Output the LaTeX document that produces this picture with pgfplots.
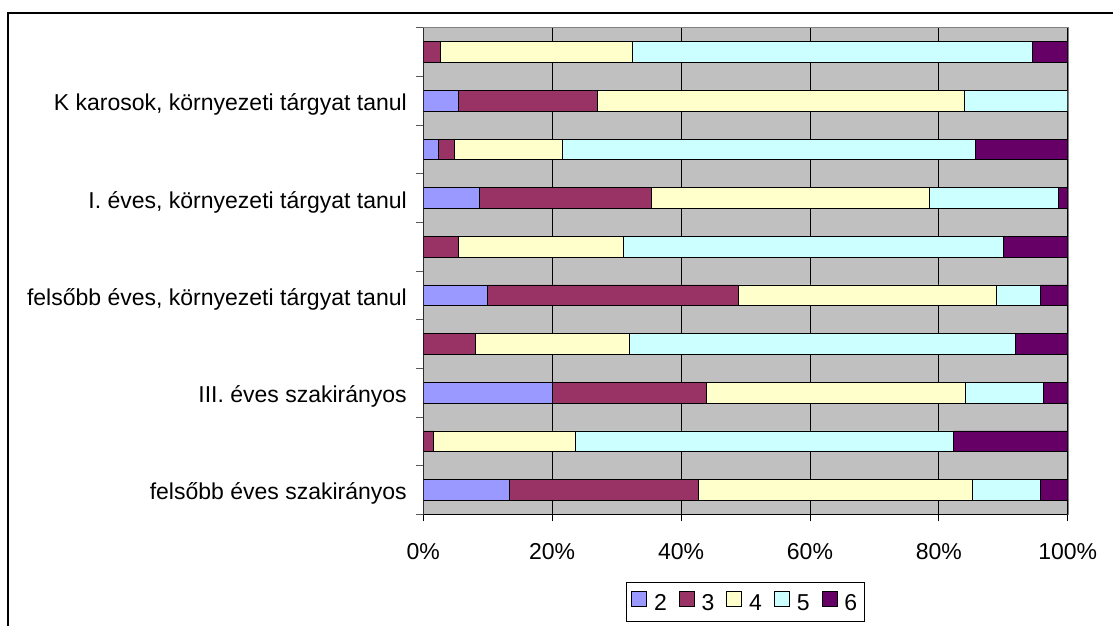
\documentclass[border=0pt]{standalone}
\usepackage{fontspec}
\setmainfont{Liberation Sans}
\usepackage{pgfplots}
\pgfplotsset{compat=1.18}

\definecolor{c2}{HTML}{9999FF}
\definecolor{c3}{HTML}{993366}
\definecolor{c4}{HTML}{FFFFCC}
\definecolor{c5}{HTML}{CCFFFF}
\definecolor{c6}{HTML}{660066}
\definecolor{plotbg}{HTML}{C0C0C0}

\newcommand{\chfont}{\fontsize{23}{27}\selectfont}

\begin{document}
\begin{tikzpicture}
\useasboundingbox (0,0) rectangle (1113pt,626pt);
% outer chart frame (only left and top visible)
\draw[black, line width=1.5pt] (8pt,0) -- (8pt,613pt) -- (1113pt,613pt);

\begin{axis}[
	at={(423.3pt,111.7pt)}, anchor=south west,
	scale only axis,
	width=644.4pt, height=486.6pt,
	xbar stacked,
	bar width=0.425,
	xmin=0, xmax=100,
	ymin=0.5, ymax=10.5,
	axis background/.style={fill=plotbg},
	axis line style={draw=gray},
	tick align=outside,
	tick pos=left,
	xtick={0,20,40,60,80,100},
	xticklabels={0\%,20\%,40\%,60\%,80\%,100\%},
	major tick length=7pt,
	xtick style={black, line width=0.8pt},
	xmajorgrids=true, ymajorgrids=false,
	major x grid style={black, line width=0.8pt},
	% tick marks at the category borders, no labels
	ytick={0.5,1.5,...,10.5},
	yticklabels={},
	ytick style={draw=gray!70!black, line width=0.8pt},
	% labels on every second category
	extra y ticks={1,3,5,7,9},
	extra y tick labels={
		felsőbb éves szakirányos,
		III. éves szakirányos,
		{felsőbb éves, környezeti tárgyat tanul},
		{I. éves, környezeti tárgyat tanul},
		{K karosok, környezeti tárgyat tanul}},
	extra y tick style={
		major tick length=0pt, ymajorgrids=false,
		yticklabel style={anchor=base east, xshift=-13pt, yshift=-10pt}},
	tick label style={font=\chfont},
	xticklabel style={anchor=base, yshift=-38pt},
	legend columns=-1,
	legend style={
		at={(0.3141,-0.1397)}, anchor=north west,
		draw=black, line width=1pt,
		font=\chfont,
		inner xsep=5pt, inner ysep=8pt,
		/tikz/every odd column/.style={column sep=5pt},
		/tikz/every even column/.style={column sep=10pt},
	},
	legend image code/.code={\draw[#1, line width=0.8pt] (0pt,-3pt) rectangle (15pt,12pt);},
	every axis plot/.append style={draw=black, line width=0.9pt},
]
\addplot[fill=c2] coordinates {(13.4,1) (0,2) (20.1,3) (0,4) (10.0,5) (0,6) (8.7,7) (2.4,8) (5.5,9) (0,10)};
\addplot[fill=c3] coordinates {(29.3,1) (1.6,2) (23.9,3) (8.1,4) (38.9,5) (5.5,6) (26.7,7) (2.5,8) (21.6,9) (2.6,10)};
\addplot[fill=c4] coordinates {(42.5,1) (22.0,2) (40.2,3) (23.9,4) (40.0,5) (25.6,6) (43.1,7) (16.7,8) (56.8,9) (29.9,10)};
\addplot[fill=c5] coordinates {(10.5,1) (58.7,2) (12.0,3) (59.9,4) (6.8,5) (58.9,6) (20.0,7) (64.1,8) (16.1,9) (62.1,10)};
\addplot[fill=c6] coordinates {(4.3,1) (17.7,2) (3.8,3) (8.1,4) (4.3,5) (10.0,6) (1.5,7) (14.3,8) (0,9) (5.4,10)};
\legend{2,3,4,5,6}
\draw[black, line width=1pt] (rel axis cs:0,1) -- (rel axis cs:0,0) -- (rel axis cs:1,0);
\end{axis}
\end{tikzpicture}
\end{document}
